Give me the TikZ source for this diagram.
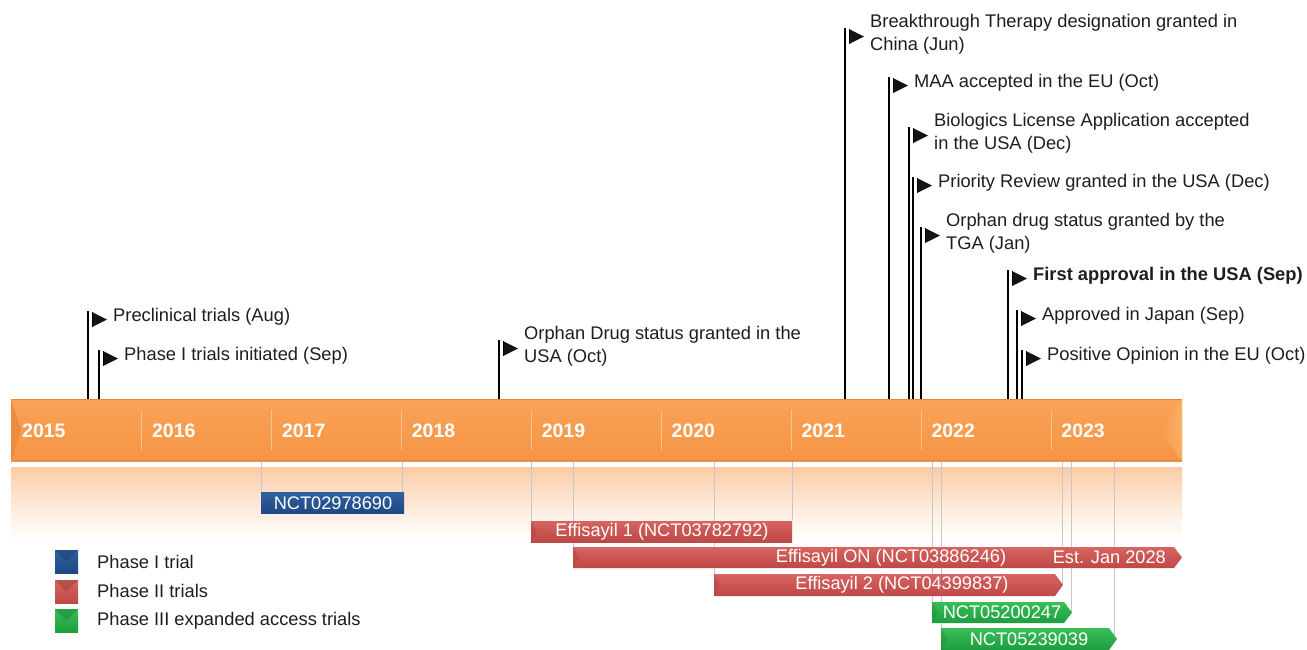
\documentclass[tikz,border=0pt]{standalone}
\usepackage{fontspec}
\setmainfont{Liberation Sans}
\usetikzlibrary{calc}
\definecolor{barmid}{RGB}{248,155,78}
\definecolor{bartop}{RGB}{249,163,86}
\definecolor{barbot}{RGB}{246,148,70}
\definecolor{baredge}{RGB}{226,135,60}
\definecolor{bardark}{RGB}{236,134,58}
\definecolor{barlight}{RGB}{251,180,104}
\definecolor{shadowtop}{RGB}{251,204,166}
\definecolor{yearsepc}{RGB}{252,196,142}
\definecolor{redtop}{RGB}{214,100,97}
\definecolor{redbot}{RGB}{190,72,70}
\definecolor{bluetop}{RGB}{48,98,160}
\definecolor{bluebot}{RGB}{30,72,132}
\definecolor{greentop}{RGB}{58,190,88}
\definecolor{greenbot}{RGB}{28,158,62}
\definecolor{txt}{RGB}{30,30,30}
\tikzset{
  pole/.style={line width=1.6pt, draw=black},
  flagtip/.style={fill=black!92},
  hoist/.style={line width=1.2pt, draw=black},
  flagtext/.style={font=\fontsize{18.3}{23}\selectfont, text=txt, anchor=west, align=left, inner sep=0pt},
  yeartext/.style={font=\fontsize{19.5}{22}\selectfont\bfseries, text=white, anchor=west, inner sep=0pt},
  trialtext/.style={font=\fontsize{18.2}{20}\selectfont, text=white, inner sep=0pt},
  dropline/.style={draw=black!22, line width=0.8pt},
  yearsep/.style={draw=yearsepc, line width=0.8pt},
  legtext/.style={font=\fontsize{18.3}{20}\selectfont, text=txt, anchor=west, inner sep=0pt},
  redbar/.style={top color=redtop, bottom color=redbot},
  bluebar/.style={top color=bluetop, bottom color=bluebot},
  greenbar/.style={top color=greentop, bottom color=greenbot},
}
\newcommand{\mkflag}[4]{%
  \coordinate (#1-top) at (#2,#3);
  \coordinate (#1-base) at (#2,399);
  \draw[pole] (#1-top) -- (#1-base);
  \fill[flagtip] ($(#1-top)+(4,1)$) -- ++(15,7.5) -- ++(-15,7.5) -- cycle;
  \draw[hoist] ($(#1-top)+(4.6,1)$) -- ++(0,15);
  \node[flagtext] (#1) at ($(#1-top)+(25,6)$) {#4};
}
\begin{document}
\begin{tikzpicture}[x=1pt,y=-1pt]
\useasboundingbox (0,0) rectangle (1307,649);
\fill[white] (0,0) rectangle (1307,649);

% shadow below the bar
\shade[top color=shadowtop, bottom color=white, middle color=shadowtop!45!white] (11,467) rectangle (1182,540);

% drop lines from the bar to the trial bars
\draw[dropline] (261,461) -- (261,492);
\draw[dropline] (402,461) -- (402,492);
\draw[dropline] (531,461) -- (531,521);
\draw[dropline] (792,461) -- (792,521);
\draw[dropline] (573,461) -- (573,547);
\draw[dropline] (714,461) -- (714,574);
\draw[dropline] (932,461) -- (932,602);
\draw[dropline] (941,461) -- (941,628);
\draw[dropline] (1062,461) -- (1062,585);
\draw[dropline] (1071,461) -- (1071,612);
\draw[dropline] (1114,461) -- (1114,639);

% main timeline bar
\shade[top color=bartop, bottom color=barbot] (11,399) rectangle (1182,461);
\fill[bardark, opacity=0.8] (11,399) -- (21,430) -- (11,461) -- cycle;
\shade[left color=barmid, right color=barlight, opacity=0.8] (1182,399) -- (1160,431) -- (1182,461) -- cycle;
\draw[baredge, line width=1.5pt] (11,460.3) -- (1182,460.3);
\draw[bardark, line width=0.8pt] (11,399.4) -- (1182,399.4);

% year separators and labels
\foreach \i in {1,...,8} {
  \draw[yearsep] ({11+130*\i},410) -- ({11+130*\i},450);
}
\foreach \y [count=\i from 0] in {2015,2016,2017,2018,2019,2020,2021,2022,2023} {
  \node[yeartext] (y\y) at ({22+129.9*\i},431) {\y};
}

% milestone flags
\mkflag{preclin}{88}{311}{Preclinical trials (Aug)}
\mkflag{phaseone}{99}{350}{Phase I trials initiated (Sep)}
\mkflag{orphanusa}{499}{340}{Orphan Drug status granted in the\\USA (Oct)}
\mkflag{btd}{845}{28}{Breakthrough Therapy designation granted in\\China (Jun)}
\mkflag{maa}{889}{77}{MAA accepted in the EU (Oct)}
\mkflag{bla}{909}{127}{Biologics License Application accepted\\in the USA (Dec)}
\mkflag{prio}{913}{177}{Priority Review granted in the USA (Dec)}
\mkflag{tga}{921}{227}{Orphan drug status granted by the\\TGA (Jan)}
\mkflag{fda}{1008}{270}{\textbf{First approval in the USA (Sep)}}
\mkflag{japan}{1017}{310}{Approved in Japan (Sep)}
\mkflag{euop}{1022}{350}{Positive Opinion in the EU (Oct)}

% trial bars
\shade[bluebar] (261,492) rectangle (404,513);
\node[trialtext] (nct1) at (333,503) {NCT02978690};

\shade[redbar] (531,521) rectangle (792,542);
\fill[redbot!85!black, opacity=0.35] (531,521) -- (537,531.5) -- (531,542) -- cycle;
\node[trialtext] (eff1) at (662,531.5) {Effisayil 1 (NCT03782792)};

\shade[redbar] (573,547) -- (1174,547) -- (1182,557.5) -- (1174,568) -- (573,568) -- cycle;
\fill[redbot!85!black, opacity=0.35] (573,547) -- (579,557.5) -- (573,568) -- cycle;
\node[trialtext] (effon) at (891,557.5) {Effisayil ON (NCT03886246)};
\node[trialtext, anchor=east] (est) at (1166,557.5) {Est. Jan 2028};

\shade[redbar] (714,574) -- (1055,574) -- (1063,585) -- (1055,596) -- (714,596) -- cycle;
\fill[redbot!85!black, opacity=0.35] (714,574) -- (720,585) -- (714,596) -- cycle;
\node[trialtext] (eff2) at (902,585) {Effisayil 2 (NCT04399837)};

\shade[greenbar] (932,602) -- (1064,602) -- (1072,612.5) -- (1064,623) -- (932,623) -- cycle;
\fill[greenbot!85!black, opacity=0.35] (932,602) -- (938,612.5) -- (932,623) -- cycle;
\node[trialtext] (nct2) at (1002,612.5) {NCT05200247};

\shade[greenbar] (941,628) -- (1109,628) -- (1117,639) -- (1109,650) -- (941,650) -- cycle;
\fill[greenbot!85!black, opacity=0.35] (941,628) -- (947,639) -- (941,650) -- cycle;
\node[trialtext] (nct3) at (1029,639) {NCT05239039};

% legend
\shade[bluebar] (55,550) rectangle (78,573);
\fill[bluebot!80!black, opacity=0.45] (55,550) -- (78,550) -- (66.5,561.5) -- cycle;
\node[legtext] (leg1) at (97,562) {Phase I trial};
\shade[redbar] (55,580) rectangle (78,603);
\fill[redbot!80!black, opacity=0.45] (55,580) -- (78,580) -- (66.5,591.5) -- cycle;
\node[legtext] (leg2) at (97,591) {Phase II trials};
\shade[greenbar] (55,609) rectangle (78,632);
\fill[greenbot!80!black, opacity=0.45] (55,609) -- (78,609) -- (66.5,620.5) -- cycle;
\node[legtext] (leg3) at (97,621) {Phase III expanded access trials};
\end{tikzpicture}
\end{document}
